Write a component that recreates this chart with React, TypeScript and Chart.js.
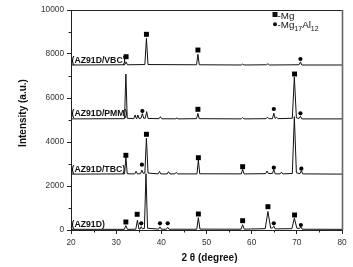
import React, { useEffect, useRef } from "react";
import { Chart, registerables } from "chart.js";

Chart.register(...registerables);

// ---- axes ----
const xRange = [20, 80];
const yRange = [0, 10000];
const xTickStep = 10;
const yTickStep = 2000;
const xMinorTicks = [25, 35, 45, 55, 65, 75];
const yMinorTicks = [1000, 3000, 5000, 7000, 9000];
const xTitle = "2 θ (degree)";
const yTitle = "Intensity (a.u.)";

// ---- XRD traces: [2θ, intensity] ----
const traceAZ91D: [number, number][] = [
  [20, 30], [31.8, 30], [32.15, 200], [32.5, 30], [34.35, 35], [34.7, 440], [35.05, 40],
  [35.3, 40], [35.55, 150], [35.8, 60], [36.25, 70], [36.6, 2560], [36.95, 80], [39.4, 40],
  [39.7, 140], [40.0, 35], [41.1, 35], [41.4, 120], [41.7, 35], [47.85, 35], [48.2, 560],
  [48.55, 40], [57.65, 35], [58.0, 240], [58.35, 40], [63.0, 60], [63.6, 840], [64.2, 90],
  [64.6, 90], [64.9, 170], [65.2, 50], [68.9, 60], [69.45, 540], [70.0, 80], [70.6, 70],
  [70.9, 140], [71.2, 35], [80, 30],
];
const traceTBC: [number, number][] = [
  [20, 2540], [31.85, 2550], [32.15, 3300], [32.45, 2555], [34.1, 2550], [34.4, 2670],
  [34.7, 2550], [35.4, 2560], [35.7, 2720], [36.0, 2570], [36.35, 2590], [36.7, 4170],
  [37.05, 2590], [39.3, 2550], [39.6, 2660], [39.9, 2550], [41.3, 2550], [41.6, 2650],
  [41.9, 2550], [43.0, 2550], [43.3, 2620], [43.6, 2550], [47.9, 2550], [48.2, 3180],
  [48.5, 2555], [57.7, 2550], [58.0, 2760], [58.3, 2550], [63.1, 2560], [63.4, 2680],
  [63.7, 2570], [64.6, 2570], [64.9, 2740], [65.2, 2555], [66.3, 2550], [66.6, 2630],
  [66.9, 2550], [69.0, 2570], [69.45, 5150], [69.9, 2600], [70.7, 2560], [71.0, 2700],
  [71.3, 2550], [80, 2540],
];
const tracePMM: [number, number][] = [
  [20, 5050], [31.85, 5060], [32.15, 7090], [32.45, 5080], [33.9, 5060], [34.2, 5230],
  [34.45, 5070], [34.6, 5080], [34.8, 5230], [35.05, 5070], [35.5, 5080], [35.8, 5290],
  [36.1, 5080], [36.45, 5080], [36.75, 5380], [37.05, 5070], [39.5, 5060], [39.8, 5150],
  [40.1, 5055], [43.2, 5055], [43.45, 5100], [43.7, 5050], [47.8, 5060], [48.1, 5300],
  [48.4, 5060], [57.7, 5050], [58.0, 5110], [58.3, 5050], [63.2, 5060], [63.5, 5130],
  [63.8, 5060], [64.6, 5060], [64.9, 5310], [65.2, 5070], [65.5, 5130], [65.8, 5060],
  [69.0, 5080], [69.45, 6950], [69.9, 5100], [70.5, 5070], [70.8, 5170], [71.1, 5050],
  [80, 5050],
];
const traceVBC: [number, number][] = [
  [20, 7500], [31.9, 7510], [32.2, 7640], [32.5, 7510], [36.35, 7520], [36.7, 8710],
  [37.05, 7520], [47.8, 7510], [48.1, 7990], [48.4, 7510], [57.7, 7500], [58.0, 7540],
  [58.3, 7500], [63.3, 7510], [63.6, 7560], [63.9, 7500], [70.5, 7510], [70.8, 7640],
  [71.1, 7500], [80, 7500],
];

const sampleNames = ["(AZ91D)", "(AZ91D/TBC)", "(AZ91D/PMM)", "(AZ91D/VBC)"];
const sampleBaselines = [30, 2540, 5050, 7500];

// ---- phase markers: [2θ, intensity] ----
const mgPeakMarks: [number, number][] = [
  [32.15, 364], [34.65, 714], [48.2, 727], [58.0, 423], [63.6, 1059], [69.5, 682],
  [32.15, 3395], [36.7, 4350], [48.2, 3286], [58.0, 2877],
  [48.1, 5486], [69.5, 7090],
  [32.2, 7877], [36.7, 8895], [48.1, 8181],
];
const mg17Al12PeakMarks: [number, number][] = [
  [35.55, 305], [39.7, 305], [41.4, 305], [64.9, 305], [70.9, 227],
  [35.7, 2968], [64.9, 2832], [71.0, 2786],
  [35.8, 5409], [64.9, 5500], [70.8, 5304],
  [70.8, 7772],
];
const legendMg = "-Mg";
const legendMg17Al12 = [
  { t: "-Mg", sub: false },
  { t: "17", sub: true },
  { t: "Al", sub: false },
  { t: "12", sub: true },
];

const FONT = "Arial, 'Liberation Sans', sans-serif";

const decorPlugin = {
  id: "decor",
  afterDraw(chart: any) {
    const { ctx, chartArea, scales } = chart;
    const { left, right, top, bottom } = chartArea;
    ctx.save();
    // frame top/right
    ctx.strokeStyle = "#222";
    ctx.lineWidth = 1;
    ctx.beginPath();
    ctx.moveTo(left, top + 0.5);
    ctx.lineTo(right, top + 0.5);
    ctx.stroke();
    ctx.strokeStyle = "#666";
    ctx.lineWidth = 1.6;
    ctx.beginPath();
    ctx.moveTo(right + 0.5, top);
    ctx.lineTo(right + 0.5, bottom);
    ctx.stroke();
    // minor ticks
    ctx.strokeStyle = "#222";
    ctx.lineWidth = 1;
    ctx.beginPath();
    xMinorTicks.forEach((v) => {
      const px = Math.round(scales.x.getPixelForValue(v)) + 0.5;
      ctx.moveTo(px, bottom);
      ctx.lineTo(px, bottom + 2.5);
    });
    yMinorTicks.forEach((v) => {
      const py = Math.round(scales.y.getPixelForValue(v)) + 0.5;
      ctx.moveTo(left, py);
      ctx.lineTo(left - 2.5, py);
    });
    ctx.stroke();
    // sample labels
    ctx.fillStyle = "#111";
    ctx.font = `bold 8.7px ${FONT}`;
    ctx.textBaseline = "alphabetic";
    ctx.textAlign = "left";
    sampleNames.forEach((name, i) => {
      const py = scales.y.getPixelForValue(sampleBaselines[i]);
      ctx.fillText(name, left + 0.5, py - 2.5);
    });
    // legend
    const lx = right - 67;
    ctx.fillRect(lx - 2.5, 12, 5, 5);
    ctx.beginPath();
    ctx.arc(lx, 24.3, 2, 0, Math.PI * 2);
    ctx.fill();
    ctx.font = `9.8px ${FONT}`;
    ctx.fillText(legendMg, lx + 2.5, 18.8);
    let x = lx + 2.5;
    legendMg17Al12.forEach((p) => {
      ctx.font = p.sub ? `7px ${FONT}` : `9.8px ${FONT}`;
      ctx.fillText(p.t, x, p.sub ? 30.5 : 28.3);
      x += ctx.measureText(p.t).width;
    });
    // axis titles
    ctx.font = `bold 10px ${FONT}`;
    ctx.textAlign = "center";
    ctx.textBaseline = "alphabetic";
    ctx.fillText(xTitle, (left + right) / 2 + 3, 261);
    ctx.save();
    ctx.translate(26, 113);
    ctx.rotate(-Math.PI / 2);
    ctx.fillText(yTitle, 0, 0);
    ctx.restore();
    ctx.restore();
  },
};

export default function App() {
  const ref = useRef<HTMLCanvasElement | null>(null);
  useEffect(() => {
    if (!ref.current) return;
    const toPts = (a: [number, number][]) => a.map(([x, y]) => ({ x, y }));
    const lineDs = (a: [number, number][]) => ({
      data: toPts(a),
      borderColor: "#111",
      borderWidth: 1,
      pointRadius: 0,
      tension: 0,
      fill: false,
    });
    const chart = new Chart(ref.current, {
      type: "line",
      data: {
        datasets: [
          lineDs(traceAZ91D),
          lineDs(traceTBC),
          lineDs(tracePMM),
          lineDs(traceVBC),
          {
            data: toPts(mgPeakMarks),
            showLine: false,
            pointStyle: "rect",
            pointRadius: 3.5,
            pointBorderWidth: 0,
            pointBackgroundColor: "#000",
            borderColor: "#000",
          } as any,
          {
            data: toPts(mg17Al12PeakMarks),
            showLine: false,
            pointStyle: "circle",
            pointRadius: 2.1,
            pointBorderWidth: 0,
            pointBackgroundColor: "#000",
            borderColor: "#000",
          } as any,
        ],
      },
      options: {
        responsive: false,
        animation: false,
        devicePixelRatio: 1,
        layout: { padding: { top: 10, right: 11, left: 0, bottom: 0 } },
        plugins: { legend: { display: false }, tooltip: { enabled: false } },
        scales: {
          x: {
            type: "linear",
            min: xRange[0],
            max: xRange[1],
            ticks: {
              stepSize: xTickStep,
              color: "#333",
              font: { family: FONT, size: 8.3 },
              padding: 4,
              callback: (v: any) => String(v),
            },
            grid: { drawOnChartArea: false, drawTicks: true, tickLength: 4, color: "#222" },
            border: { display: true, color: "#222", width: 1 },
            afterFit: (s: any) => { s.height = 37; },
          },
          y: {
            min: yRange[0],
            max: yRange[1],
            ticks: {
              stepSize: yTickStep,
              color: "#333",
              font: { family: FONT, size: 8.3 },
              padding: 3,
              callback: (v: any) => String(v),
            },
            grid: { drawOnChartArea: false, drawTicks: true, tickLength: 4, color: "#222" },
            border: { display: true, color: "#222", width: 1 },
            afterFit: (s: any) => { s.width = 71; },
          },
        },
      },
      plugins: [decorPlugin],
    } as any);
    return () => chart.destroy();
  }, []);
  return (
    <div style={{ position: "fixed", left: 0, top: 0, width: 353, height: 267, background: "#fff" }}>
      <canvas ref={ref} width={353} height={267} style={{ width: 353, height: 267 }} />
    </div>
  );
}
